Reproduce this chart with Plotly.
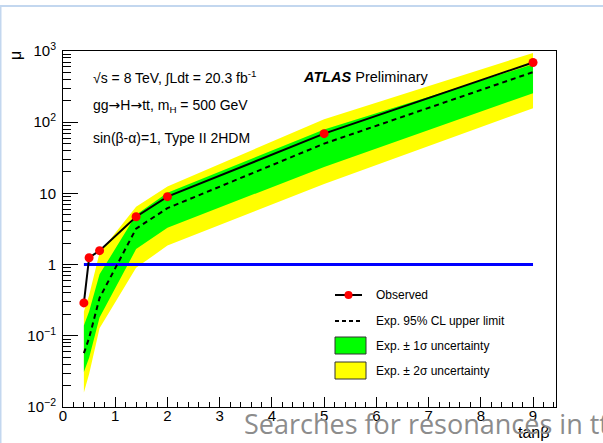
import plotly.graph_objects as go

# ---- data -------------------------------------------------------------
tan_beta = [0.4, 0.5, 0.7, 1.4, 2.0, 5.0, 9.0]
mu_observed = [0.29, 1.25, 1.57, 4.7, 9.0, 69.0, 690.0]
mu_expected = [0.057, 0.093, 0.34, 3.2, 6.2, 50.0, 505.0]
mu_exp_up1 = [0.14, 0.22, 0.73, 5.0, 10.2, 79.0, 650.0]
mu_exp_dn1 = [0.031, 0.049, 0.18, 1.65, 3.3, 23.5, 256.0]
mu_exp_up2 = [0.22, 0.37, 1.47, 6.5, 12.5, 110.0, 940.0]
mu_exp_dn2 = [0.016, 0.029, 0.128, 0.9, 1.85, 13.6, 157.0]

ref_x = [0.4, 9.0]
ref_mu = [1.0, 1.0]

x_ticks = [0, 1, 2, 3, 4, 5, 6, 7, 8, 9]
y_ticks = [0.01, 0.1, 1, 10, 100, 1000]
y_tick_text = ["10<sup>−2</sup>", "10<sup>−1</sup>", "1", "10",
               "10<sup>2</sup>", "10<sup>3</sup>"]

# ---- geometry helpers (pixel -> paper) --------------------------------
W, H = 603, 443
L, R, T, B = 63, 556, 51, 407


def px(x):
    return (x - L) / (R - L)


def py(y):
    return (B - y) / (B - T)


FONT = "Liberation Sans, Arial, Helvetica, sans-serif"
GREEN = "#00ff00"
YELLOW = "#ffff00"
ARROW = '<span style="font-family:DejaVu Sans">→</span>'

fig = go.Figure()

# +-2 sigma band
fig.add_trace(go.Scatter(
    x=tan_beta + tan_beta[::-1], y=mu_exp_up2 + mu_exp_dn2[::-1],
    fill="toself", fillcolor=YELLOW, line=dict(width=0), mode="lines",
    hoverinfo="skip"))
# +-1 sigma band
fig.add_trace(go.Scatter(
    x=tan_beta + tan_beta[::-1], y=mu_exp_up1 + mu_exp_dn1[::-1],
    fill="toself", fillcolor=GREEN, line=dict(width=0), mode="lines",
    hoverinfo="skip"))
# mu = 1 reference
fig.add_trace(go.Scatter(x=ref_x, y=ref_mu, mode="lines",
                         line=dict(color="#0000ff", width=3)))
# expected limit
fig.add_trace(go.Scatter(x=tan_beta, y=mu_expected, mode="lines",
                         line=dict(color="black", width=2, dash="5px,4px")))
# observed limit
fig.add_trace(go.Scatter(x=tan_beta, y=mu_observed, mode="lines+markers",
                         line=dict(color="black", width=2),
                         marker=dict(color="#ff0000", size=9)))

y_minor = [m * 10 ** e for e in range(-2, 3) for m in range(2, 10)]

fig.update_layout(
    width=W, height=H,
    margin=dict(l=L, r=W - R, t=T, b=H - B, pad=0),
    paper_bgcolor="white", plot_bgcolor="white",
    showlegend=False,
    font=dict(family=FONT, color="black", size=14),
    xaxis=dict(
        range=[0, 9.44], tickmode="array", tickvals=x_ticks,
        ticks="inside", ticklen=10, tickwidth=1, tickcolor="black",
        showline=True, linecolor="black", linewidth=1, mirror=True,
        showgrid=False, zeroline=False,
        tickfont=dict(size=15, family=FONT),
        ticklabelstandoff=-5,
        minor=dict(ticks="inside", ticklen=5, tickcolor="black",
                   dtick=0.2, tick0=0, showgrid=False),
    ),
    yaxis=dict(
        type="log", range=[-2, 3], tickmode="array",
        tickvals=y_ticks, ticktext=y_tick_text,
        ticks="inside", ticklen=15, tickwidth=1, tickcolor="black",
        showline=True, linecolor="black", linewidth=1, mirror=True,
        showgrid=False, zeroline=False,
        tickfont=dict(size=15, family=FONT),
        ticklabelstandoff=3,
        minor=dict(ticks="inside", ticklen=8, tickcolor="black",
                   tickmode="array", tickvals=y_minor, showgrid=False),
    ),
)

ann = []


def text(x, y, s, size=14, xanchor="left", yanchor="middle", **kw):
    ann.append(dict(x=px(x), y=py(y), xref="paper", yref="paper", text=s,
                    showarrow=False, xanchor=xanchor, yanchor=yanchor,
                    font=dict(size=size, family=kw.pop("family", FONT),
                              color=kw.pop("color", "black")), **kw))


text(91, 77, "√s = 8 TeV, ∫Ldt = 20.3 fb<sup>-1</sup>", 14)
text(301, 77, "<b><i>ATLAS</i></b> Preliminary", 14.5)
text(91, 106, f"gg{ARROW}H{ARROW}tt, m<sub>H</sub> = 500 GeV", 14)
text(91, 138, "sin(β-α)=1, Type II 2HDM", 14)

# axis titles
text(16, 56, "μ", 16, xanchor="center", textangle=-90)
text(551, 432, "tanβ", 16, xanchor="right")

# legend
shapes = []
shapes.append(dict(type="line", xref="paper", yref="paper",
                   x0=px(335), x1=px(362), y0=py(295), y1=py(295),
                   line=dict(color="black", width=2)))
shapes.append(dict(type="circle", xref="paper", yref="paper",
                   x0=px(344.5), x1=px(352.5), y0=py(291), y1=py(299),
                   fillcolor="#ff0000", line=dict(width=0)))
shapes.append(dict(type="line", xref="paper", yref="paper",
                   x0=px(335), x1=px(362), y0=py(321), y1=py(321),
                   line=dict(color="black", width=2, dash="4px,3px")))
shapes.append(dict(type="rect", xref="paper", yref="paper",
                   x0=px(335), x1=px(366), y0=py(337), y1=py(354),
                   fillcolor=GREEN, line=dict(color="#333333", width=1)))
shapes.append(dict(type="rect", xref="paper", yref="paper",
                   x0=px(335), x1=px(366), y0=py(362), y1=py(379),
                   fillcolor=YELLOW, line=dict(color="#333333", width=1)))

text(374, 295, "Observed", 12)
text(374, 321, "Exp. 95% CL upper limit", 12)
text(374, 346, "Exp. ± 1σ uncertainty", 12)
text(374, 371, "Exp. ± 2σ uncertainty", 12)

# slide decoration around the chart
shapes.append(dict(type="rect", xref="paper", yref="paper",
                   x0=px(0), x1=px(603), y0=py(7), y1=py(5),
                   fillcolor="#c3d7ef", line=dict(width=0), layer="below"))
shapes.append(dict(type="rect", xref="paper", yref="paper",
                   x0=px(0), x1=px(1.5), y0=py(443), y1=py(5),
                   fillcolor="#c3d7ef", line=dict(width=0), layer="below"))

text(242, 423, "Searches for resonances in tt", 27,
     family="Open Sans, sans-serif", color="#8c8c8c")

fig.update_layout(annotations=ann, shapes=shapes)
fig.write_html("out.html")
